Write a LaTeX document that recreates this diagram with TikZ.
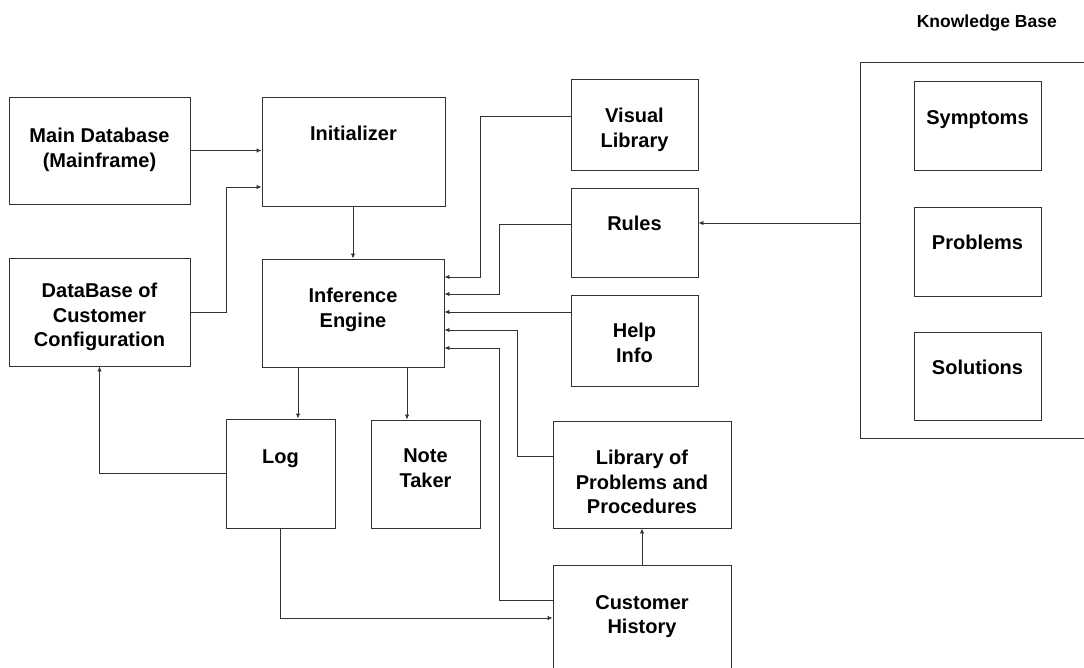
\documentclass[tikz,border=0pt]{standalone}
\usepackage{fontspec}
\setmainfont{Liberation Sans}
\usetikzlibrary{arrows.meta}
\definecolor{linec}{gray}{0.2}
\tikzset{
  box/.style={draw=linec, line width=0.9pt, inner sep=0pt, rectangle},
  lbl/.style={anchor=north, inner sep=0pt, align=center,
    font=\fontsize{20}{24.5}\selectfont\bfseries},
  arr/.style={draw=linec, line width=0.9pt, -{Latex[length=5pt,width=4.5pt]}},
}
\begin{document}
\begin{tikzpicture}[x=1pt,y=-1pt]
\useasboundingbox (0,0) rectangle (1084,668);
\clip (0,0) rectangle (1084,668);

% boxes
\node[box, minimum width=181pt, minimum height=107pt] (mdb) at (99.5,150.5) {};
\node[box, minimum width=183pt, minimum height=109pt] (ini) at (353.5,151.5) {};
\node[box, minimum width=181pt, minimum height=108pt] (dbc) at (99.5,312) {};
\node[box, minimum width=182pt, minimum height=108pt] (ie) at (353,313) {};
\node[box, minimum width=127pt, minimum height=91pt] (vl) at (634.5,124.5) {};
\node[box, minimum width=127pt, minimum height=89pt] (rul) at (634.5,232.5) {};
\node[box, minimum width=127pt, minimum height=91pt] (hlp) at (634.5,340.5) {};
\node[box, minimum width=109pt, minimum height=109pt] (log) at (280.5,473.5) {};
\node[box, minimum width=109pt, minimum height=108pt] (nt) at (425.5,474) {};
\node[box, minimum width=178pt, minimum height=107pt] (lpp) at (642,474.5) {};
\node[box, minimum width=178pt, minimum height=135pt] (ch) at (642,632.5) {};
\node[box, minimum width=260pt, minimum height=376pt] (kb) at (990,250) {};
\node[box, minimum width=127pt, minimum height=89pt] (sym) at (977.5,125.5) {};
\node[box, minimum width=127pt, minimum height=89pt] (prb) at (977.5,251.5) {};
\node[box, minimum width=127pt, minimum height=88pt] (sol) at (977.5,376) {};

% labels
\node[lbl] (mdbt) at (99.5,128) {Main Database\\(Mainframe)};
\node[lbl] (init) at (353.5,126) {Initializer};
\node[lbl] (dbct) at (99.5,283) {DataBase of\\Customer\\Configuration};
\node[lbl] (iet) at (353,288) {Inference\\Engine};
\node[lbl] (vlt) at (634.5,108) {Visual\\Library};
\node[lbl] (rult) at (634.5,216) {Rules};
\node[lbl] (hlpt) at (634.5,323) {Help\\Info};
\node[lbl] (logt) at (280.5,450) {Log};
\node[lbl] (ntt) at (425.5,449) {Note\\Taker};
\node[lbl] (lppt) at (642,450) {Library of\\Problems and\\Procedures};
\node[lbl] (cht) at (642,595) {Customer\\History};
\node[lbl] (symt) at (977.5,110) {Symptoms};
\node[lbl] (prbt) at (977.5,235) {Problems};
\node[lbl] (solt) at (977.5,360) {Solutions};
\node[font=\fontsize{17.5}{20}\selectfont\bfseries, inner sep=0pt, anchor=base east] (kbt) at (1057,28) {Knowledge Base};

% connectors
\draw[arr] (mdb.east) -- (ini.west |- mdb.east);
\draw[arr] (dbc.east |- 0,312) -| (226,187) -- (ini.west |- 0,187);
\draw[arr] (ini.south -| 353,0) -- (ie.north -| 353,0);
\draw[arr] (vl.west |- 0,116) -| (480,277) -- (ie.east |- 0,277);
\draw[arr] (rul.west |- 0,224) -| (499,294) -- (ie.east |- 0,294);
\draw[arr] (hlp.west |- 0,312) -- (ie.east |- 0,312);
\draw[arr] (lpp.west |- 0,456) -| (517,330) -- (ie.east |- 0,330);
\draw[arr] (ch.west |- 0,600) -| (499,348) -- (ie.east |- 0,348);
\draw[arr] (ie.south -| 298,0) -- (log.north -| 298,0);
\draw[arr] (ie.south -| 407,0) -- (nt.north -| 407,0);
\draw[arr] (log.west |- 0,473) -| (dbc.south);
\draw[arr] (log.south) |- (ch.west |- 0,618);
\draw[arr] (ch.north) -- (lpp.south);
\draw[arr] (kb.west |- 0,223) -- (rul.east |- 0,223);
\end{tikzpicture}
\end{document}
